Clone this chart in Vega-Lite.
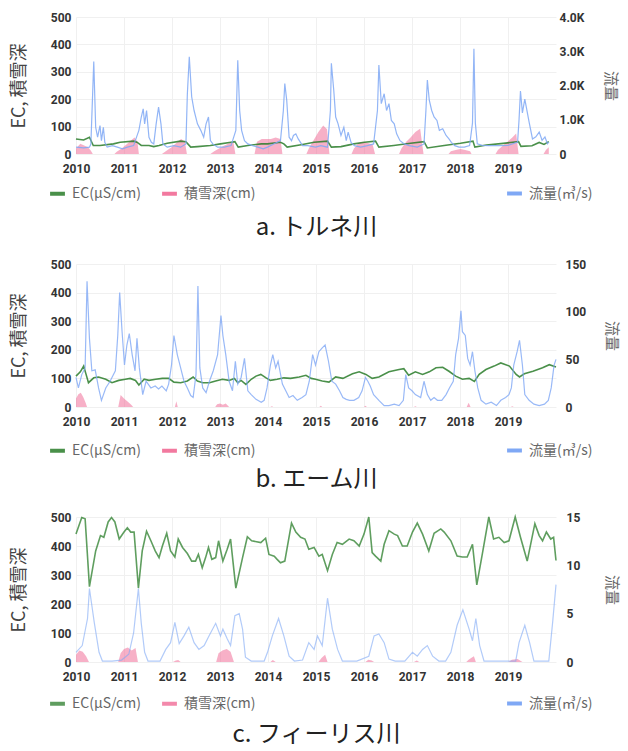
{
  "$schema": "https://vega.github.io/schema/vega-lite/v6.json",
  "background": "white",
  "padding": {"left": 10, "top": 11, "right": 7, "bottom": 5},
  "config": {
    "view": {"stroke": null},
    "font": "Roboto, Noto Sans CJK JP",
    "axis": {"domain": false, "ticks": false, "tickSize": 0, "labelFont": "Roboto", "labelFontWeight": "bold", "labelFontSize": 12, "labelColor": "#333333", "gridColor": "#f0f0f0", "titleFont": "Noto Sans CJK JP", "titleFontWeight": "normal"},
    "legend": {"padding": 0}
  },
  "datasets": {
    "a_fl": [{"t":2010,"v":200},{"t":2010.16,"v":180},{"t":2010.28,"v":200},{"t":2010.31,"v":290},{"t":2010.37,"v":2700},{"t":2010.41,"v":780},{"t":2010.45,"v":490},{"t":2010.5,"v":830},{"t":2010.53,"v":390},{"t":2010.57,"v":780},{"t":2010.6,"v":340},{"t":2010.65,"v":200},{"t":2010.76,"v":245},{"t":2010.86,"v":200},{"t":2010.97,"v":150},{"t":2011.07,"v":200},{"t":2011.2,"v":245},{"t":2011.31,"v":690},{"t":2011.36,"v":1080},{"t":2011.4,"v":1320},{"t":2011.43,"v":880},{"t":2011.47,"v":1270},{"t":2011.52,"v":490},{"t":2011.57,"v":340},{"t":2011.62,"v":294},{"t":2011.67,"v":880},{"t":2011.72,"v":1370},{"t":2011.77,"v":880},{"t":2011.81,"v":294},{"t":2011.9,"v":200},{"t":2012.04,"v":245},{"t":2012.18,"v":200},{"t":2012.29,"v":294},{"t":2012.32,"v":1760},{"t":2012.36,"v":2840},{"t":2012.41,"v":1670},{"t":2012.46,"v":1270},{"t":2012.53,"v":880},{"t":2012.6,"v":690},{"t":2012.66,"v":490},{"t":2012.71,"v":880},{"t":2012.76,"v":1080},{"t":2012.8,"v":390},{"t":2012.85,"v":294},{"t":2012.95,"v":200},{"t":2013.09,"v":200},{"t":2013.23,"v":245},{"t":2013.33,"v":690},{"t":2013.37,"v":2740},{"t":2013.41,"v":1270},{"t":2013.45,"v":690},{"t":2013.51,"v":390},{"t":2013.58,"v":294},{"t":2013.68,"v":245},{"t":2013.79,"v":200},{"t":2013.9,"v":150},{"t":2013.99,"v":200},{"t":2014.12,"v":294},{"t":2014.26,"v":390},{"t":2014.32,"v":1270},{"t":2014.35,"v":2060},{"t":2014.39,"v":1570},{"t":2014.44,"v":490},{"t":2014.49,"v":390},{"t":2014.53,"v":540},{"t":2014.58,"v":590},{"t":2014.63,"v":440},{"t":2014.72,"v":245},{"t":2014.83,"v":245},{"t":2014.99,"v":200},{"t":2015.1,"v":245},{"t":2015.24,"v":200},{"t":2015.3,"v":1270},{"t":2015.32,"v":2650},{"t":2015.37,"v":1860},{"t":2015.41,"v":1080},{"t":2015.46,"v":880},{"t":2015.52,"v":540},{"t":2015.58,"v":780},{"t":2015.63,"v":390},{"t":2015.67,"v":640},{"t":2015.73,"v":340},{"t":2015.8,"v":245},{"t":2015.93,"v":200},{"t":2016.07,"v":245},{"t":2016.2,"v":294},{"t":2016.28,"v":1270},{"t":2016.31,"v":2600},{"t":2016.36,"v":1470},{"t":2016.42,"v":1760},{"t":2016.47,"v":1270},{"t":2016.52,"v":1470},{"t":2016.57,"v":980},{"t":2016.63,"v":880},{"t":2016.68,"v":590},{"t":2016.75,"v":390},{"t":2016.84,"v":294},{"t":2016.94,"v":245},{"t":2017.11,"v":200},{"t":2017.25,"v":294},{"t":2017.29,"v":1270},{"t":2017.32,"v":2160},{"t":2017.36,"v":1570},{"t":2017.41,"v":1270},{"t":2017.46,"v":1080},{"t":2017.52,"v":980},{"t":2017.57,"v":690},{"t":2017.64,"v":735},{"t":2017.71,"v":540},{"t":2017.77,"v":440},{"t":2017.82,"v":340},{"t":2017.89,"v":245},{"t":2017.98,"v":200},{"t":2018.09,"v":200},{"t":2018.2,"v":245},{"t":2018.26,"v":900},{"t":2018.29,"v":3070},{"t":2018.32,"v":900},{"t":2018.36,"v":300},{"t":2018.46,"v":250},{"t":2018.6,"v":245},{"t":2018.8,"v":245},{"t":2019,"v":250},{"t":2019.2,"v":350},{"t":2019.23,"v":1000},{"t":2019.26,"v":1840},{"t":2019.3,"v":1200},{"t":2019.35,"v":1600},{"t":2019.44,"v":930},{"t":2019.51,"v":440},{"t":2019.58,"v":500},{"t":2019.65,"v":640},{"t":2019.71,"v":400},{"t":2019.77,"v":500},{"t":2019.82,"v":300},{"t":2019.85,"v":350}],
    "a_ec": [{"t":2010,"v":55},{"t":2010.16,"v":51},{"t":2010.28,"v":61},{"t":2010.36,"v":31},{"t":2010.5,"v":31},{"t":2010.78,"v":37},{"t":2010.92,"v":43},{"t":2011.2,"v":47},{"t":2011.27,"v":43},{"t":2011.36,"v":31},{"t":2011.52,"v":31},{"t":2011.62,"v":27},{"t":2011.73,"v":31},{"t":2011.9,"v":39},{"t":2012.18,"v":47},{"t":2012.29,"v":45},{"t":2012.39,"v":25},{"t":2012.53,"v":27},{"t":2012.8,"v":31},{"t":2013.01,"v":37},{"t":2013.23,"v":43},{"t":2013.31,"v":45},{"t":2013.38,"v":25},{"t":2013.58,"v":31},{"t":2013.86,"v":37},{"t":2013.99,"v":37},{"t":2014.26,"v":43},{"t":2014.33,"v":37},{"t":2014.4,"v":25},{"t":2014.69,"v":34},{"t":2014.96,"v":43},{"t":2015.24,"v":47},{"t":2015.32,"v":25},{"t":2015.52,"v":27},{"t":2015.79,"v":37},{"t":2016.01,"v":43},{"t":2016.24,"v":47},{"t":2016.31,"v":25},{"t":2016.62,"v":31},{"t":2016.97,"v":39},{"t":2017.25,"v":45},{"t":2017.32,"v":22},{"t":2017.67,"v":31},{"t":2018.01,"v":39},{"t":2018.27,"v":47},{"t":2018.31,"v":25},{"t":2018.55,"v":33},{"t":2018.85,"v":38},{"t":2019.22,"v":45},{"t":2019.27,"v":28},{"t":2019.5,"v":30},{"t":2019.65,"v":42},{"t":2019.75,"v":35},{"t":2019.85,"v":45}],
    "a_sn": [{"t":2010,"v":20},{"t":2010.09,"v":37},{"t":2010.17,"v":31},{"t":2010.25,"v":25},{"t":2010.31,"v":12},{"t":2010.35,"v":0},{"t":2010.8,"v":0},{"t":2010.85,"v":8},{"t":2010.95,"v":20},{"t":2011.05,"v":35},{"t":2011.15,"v":50},{"t":2011.22,"v":60},{"t":2011.28,"v":45},{"t":2011.31,"v":0},{"t":2011.79,"v":0},{"t":2011.87,"v":10},{"t":2011.99,"v":25},{"t":2012.09,"v":40},{"t":2012.19,"v":55},{"t":2012.27,"v":45},{"t":2012.31,"v":0},{"t":2012.8,"v":0},{"t":2012.88,"v":10},{"t":2012.98,"v":20},{"t":2013.08,"v":30},{"t":2013.18,"v":38},{"t":2013.28,"v":43},{"t":2013.32,"v":0},{"t":2013.72,"v":0},{"t":2013.77,"v":45},{"t":2013.87,"v":55},{"t":2013.96,"v":55},{"t":2014.06,"v":55},{"t":2014.16,"v":60},{"t":2014.26,"v":55},{"t":2014.3,"v":0},{"t":2014.8,"v":0},{"t":2014.85,"v":20},{"t":2014.95,"v":50},{"t":2015.05,"v":80},{"t":2015.15,"v":104},{"t":2015.23,"v":90},{"t":2015.28,"v":0},{"t":2015.74,"v":0},{"t":2015.79,"v":20},{"t":2015.89,"v":40},{"t":2015.98,"v":45},{"t":2016.08,"v":40},{"t":2016.18,"v":35},{"t":2016.23,"v":0},{"t":2016.73,"v":0},{"t":2016.78,"v":20},{"t":2016.88,"v":45},{"t":2016.97,"v":60},{"t":2017.07,"v":80},{"t":2017.17,"v":92},{"t":2017.24,"v":0},{"t":2017.76,"v":0},{"t":2017.81,"v":10},{"t":2017.91,"v":15},{"t":2018.01,"v":18},{"t":2018.11,"v":15},{"t":2018.21,"v":10},{"t":2018.24,"v":0},{"t":2018.74,"v":0},{"t":2018.79,"v":15},{"t":2018.89,"v":30},{"t":2018.99,"v":45},{"t":2019.09,"v":60},{"t":2019.17,"v":75},{"t":2019.22,"v":0},{"t":2019.74,"v":0},{"t":2019.79,"v":15},{"t":2019.85,"v":25}],
    "b_fl": [{"t":2010,"v":31},{"t":2010.05,"v":20},{"t":2010.12,"v":34},{"t":2010.19,"v":41},{"t":2010.23,"v":132},{"t":2010.28,"v":72},{"t":2010.33,"v":38},{"t":2010.4,"v":39},{"t":2010.47,"v":20},{"t":2010.53,"v":7},{"t":2010.62,"v":20},{"t":2010.71,"v":27},{"t":2010.82,"v":38},{"t":2010.87,"v":75},{"t":2010.91,"v":120},{"t":2010.96,"v":79},{"t":2011.01,"v":44},{"t":2011.06,"v":65},{"t":2011.11,"v":77},{"t":2011.17,"v":55},{"t":2011.23,"v":38},{"t":2011.27,"v":72},{"t":2011.32,"v":41},{"t":2011.39,"v":13},{"t":2011.46,"v":27},{"t":2011.56,"v":20},{"t":2011.65,"v":22},{"t":2011.72,"v":19},{"t":2011.79,"v":22},{"t":2011.88,"v":17},{"t":2011.93,"v":24},{"t":2011.99,"v":44},{"t":2012.04,"v":75},{"t":2012.11,"v":55},{"t":2012.18,"v":41},{"t":2012.25,"v":27},{"t":2012.32,"v":20},{"t":2012.39,"v":12},{"t":2012.44,"v":10},{"t":2012.5,"v":34},{"t":2012.54,"v":127},{"t":2012.58,"v":41},{"t":2012.64,"v":20},{"t":2012.71,"v":15},{"t":2012.78,"v":27},{"t":2012.86,"v":38},{"t":2012.95,"v":55},{"t":2013.02,"v":96},{"t":2013.06,"v":75},{"t":2013.12,"v":55},{"t":2013.19,"v":27},{"t":2013.26,"v":17},{"t":2013.32,"v":48},{"t":2013.37,"v":24},{"t":2013.44,"v":31},{"t":2013.51,"v":51},{"t":2013.58,"v":17},{"t":2013.65,"v":13},{"t":2013.75,"v":8},{"t":2013.86,"v":5},{"t":2013.92,"v":7},{"t":2013.98,"v":20},{"t":2014.05,"v":44},{"t":2014.1,"v":55},{"t":2014.16,"v":41},{"t":2014.21,"v":48},{"t":2014.3,"v":24},{"t":2014.37,"v":17},{"t":2014.44,"v":10},{"t":2014.52,"v":12},{"t":2014.61,"v":7},{"t":2014.71,"v":10},{"t":2014.79,"v":13},{"t":2014.86,"v":27},{"t":2014.93,"v":55},{"t":2014.99,"v":44},{"t":2015.06,"v":58},{"t":2015.13,"v":62},{"t":2015.19,"v":65},{"t":2015.26,"v":48},{"t":2015.33,"v":27},{"t":2015.41,"v":24},{"t":2015.49,"v":17},{"t":2015.56,"v":10},{"t":2015.63,"v":8},{"t":2015.7,"v":7},{"t":2015.79,"v":7},{"t":2015.89,"v":10},{"t":2015.96,"v":17},{"t":2016.03,"v":31},{"t":2016.08,"v":27},{"t":2016.13,"v":22},{"t":2016.2,"v":13},{"t":2016.31,"v":7},{"t":2016.42,"v":1.5},{"t":2016.52,"v":1.5},{"t":2016.63,"v":3},{"t":2016.73,"v":1.5},{"t":2016.82,"v":7},{"t":2016.87,"v":34},{"t":2016.93,"v":20},{"t":2017,"v":17},{"t":2017.07,"v":13},{"t":2017.18,"v":10},{"t":2017.25,"v":27},{"t":2017.32,"v":13},{"t":2017.39,"v":7},{"t":2017.46,"v":10},{"t":2017.53,"v":7},{"t":2017.62,"v":7},{"t":2017.71,"v":13},{"t":2017.78,"v":20},{"t":2017.86,"v":27},{"t":2017.91,"v":55},{"t":2017.97,"v":72},{"t":2018.02,"v":101},{"t":2018.05,"v":79},{"t":2018.11,"v":75},{"t":2018.16,"v":51},{"t":2018.21,"v":44},{"t":2018.26,"v":58},{"t":2018.31,"v":38},{"t":2018.37,"v":20},{"t":2018.44,"v":7},{"t":2018.54,"v":3},{"t":2018.65,"v":5},{"t":2018.76,"v":1.5},{"t":2018.85,"v":7},{"t":2018.95,"v":10},{"t":2019.02,"v":13},{"t":2019.07,"v":20},{"t":2019.12,"v":44},{"t":2019.19,"v":58},{"t":2019.24,"v":70},{"t":2019.3,"v":44},{"t":2019.35,"v":13},{"t":2019.44,"v":7},{"t":2019.54,"v":3},{"t":2019.65,"v":1.5},{"t":2019.76,"v":3},{"t":2019.84,"v":7},{"t":2019.9,"v":20},{"t":2019.96,"v":44},{"t":2020,"v":50}],
    "b_ec": [{"t":2010,"v":108},{"t":2010.09,"v":123},{"t":2010.16,"v":143},{"t":2010.21,"v":114},{"t":2010.26,"v":85},{"t":2010.37,"v":102},{"t":2010.47,"v":105},{"t":2010.62,"v":97},{"t":2010.75,"v":85},{"t":2010.89,"v":93},{"t":2011.03,"v":97},{"t":2011.13,"v":100},{"t":2011.24,"v":93},{"t":2011.31,"v":77},{"t":2011.42,"v":97},{"t":2011.52,"v":93},{"t":2011.66,"v":97},{"t":2011.8,"v":100},{"t":2011.93,"v":100},{"t":2012.04,"v":87},{"t":2012.18,"v":85},{"t":2012.32,"v":91},{"t":2012.44,"v":105},{"t":2012.53,"v":91},{"t":2012.64,"v":85},{"t":2012.78,"v":85},{"t":2012.91,"v":91},{"t":2013.05,"v":97},{"t":2013.19,"v":93},{"t":2013.3,"v":100},{"t":2013.37,"v":85},{"t":2013.44,"v":93},{"t":2013.54,"v":79},{"t":2013.65,"v":97},{"t":2013.75,"v":108},{"t":2013.85,"v":114},{"t":2013.96,"v":102},{"t":2014.05,"v":93},{"t":2014.19,"v":97},{"t":2014.33,"v":102},{"t":2014.47,"v":100},{"t":2014.65,"v":105},{"t":2014.79,"v":111},{"t":2014.9,"v":100},{"t":2014.99,"v":97},{"t":2015.13,"v":91},{"t":2015.27,"v":87},{"t":2015.41,"v":105},{"t":2015.56,"v":100},{"t":2015.76,"v":116},{"t":2015.9,"v":123},{"t":2016.04,"v":114},{"t":2016.17,"v":100},{"t":2016.31,"v":105},{"t":2016.52,"v":123},{"t":2016.73,"v":131},{"t":2016.83,"v":134},{"t":2016.93,"v":111},{"t":2017.07,"v":123},{"t":2017.22,"v":114},{"t":2017.36,"v":123},{"t":2017.5,"v":137},{"t":2017.64,"v":139},{"t":2017.77,"v":125},{"t":2017.91,"v":108},{"t":2018.05,"v":97},{"t":2018.19,"v":100},{"t":2018.3,"v":89},{"t":2018.4,"v":114},{"t":2018.54,"v":131},{"t":2018.71,"v":143},{"t":2018.85,"v":154},{"t":2019.03,"v":143},{"t":2019.17,"v":114},{"t":2019.24,"v":105},{"t":2019.34,"v":116},{"t":2019.52,"v":125},{"t":2019.72,"v":137},{"t":2019.86,"v":148},{"t":2020,"v":140}],
    "b_sn": [{"t":2010,"v":30},{"t":2010.05,"v":45},{"t":2010.1,"v":50},{"t":2010.15,"v":35},{"t":2010.2,"v":15},{"t":2010.23,"v":0},{"t":2010.88,"v":0},{"t":2010.93,"v":42},{"t":2011,"v":30},{"t":2011.08,"v":18},{"t":2011.15,"v":8},{"t":2011.19,"v":0},{"t":2012.06,"v":0},{"t":2012.09,"v":20},{"t":2012.12,"v":0},{"t":2012.9,"v":0},{"t":2012.94,"v":10},{"t":2013,"v":12},{"t":2013.06,"v":8},{"t":2013.12,"v":12},{"t":2013.19,"v":0},{"t":2014.05,"v":0},{"t":2014.08,"v":3},{"t":2014.11,"v":0},{"t":2015.07,"v":0},{"t":2015.1,"v":4},{"t":2015.13,"v":0},{"t":2016,"v":0},{"t":2016.03,"v":4},{"t":2016.06,"v":0},{"t":2017.04,"v":0},{"t":2017.07,"v":3},{"t":2017.1,"v":0},{"t":2018.14,"v":0},{"t":2018.18,"v":15},{"t":2018.22,"v":0},{"t":2019.06,"v":0},{"t":2019.09,"v":3},{"t":2019.12,"v":0}],
    "c_fl": [{"t":2010,"v":1},{"t":2010.13,"v":1.7},{"t":2010.24,"v":4.5},{"t":2010.28,"v":7.6},{"t":2010.38,"v":4.1},{"t":2010.48,"v":1},{"t":2010.55,"v":0.1},{"t":2010.75,"v":0.1},{"t":2010.95,"v":0.2},{"t":2011.1,"v":0.8},{"t":2011.2,"v":3},{"t":2011.3,"v":7.6},{"t":2011.36,"v":4},{"t":2011.43,"v":1},{"t":2011.5,"v":0.1},{"t":2011.75,"v":0.1},{"t":2011.87,"v":1.3},{"t":2011.97,"v":2},{"t":2012.06,"v":4.1},{"t":2012.15,"v":1.9},{"t":2012.25,"v":2.7},{"t":2012.35,"v":3.6},{"t":2012.46,"v":2},{"t":2012.56,"v":1.3},{"t":2012.67,"v":1.7},{"t":2012.77,"v":2.7},{"t":2012.91,"v":4},{"t":2013.01,"v":2.7},{"t":2013.06,"v":3.4},{"t":2013.15,"v":2.4},{"t":2013.22,"v":1.7},{"t":2013.31,"v":4.8},{"t":2013.4,"v":5},{"t":2013.47,"v":3.4},{"t":2013.53,"v":0.5},{"t":2013.65,"v":0.1},{"t":2013.92,"v":0.1},{"t":2013.99,"v":1},{"t":2014.09,"v":2.7},{"t":2014.22,"v":4.5},{"t":2014.33,"v":2.7},{"t":2014.44,"v":0.6},{"t":2014.55,"v":0.1},{"t":2014.72,"v":0.2},{"t":2014.85,"v":2},{"t":2014.96,"v":1.3},{"t":2015.03,"v":2.7},{"t":2015.13,"v":1.7},{"t":2015.24,"v":6.6},{"t":2015.34,"v":3.4},{"t":2015.45,"v":1.3},{"t":2015.55,"v":0.1},{"t":2015.85,"v":0.1},{"t":2016.1,"v":0.6},{"t":2016.21,"v":2.7},{"t":2016.31,"v":2.9},{"t":2016.42,"v":2},{"t":2016.52,"v":0.3},{"t":2016.65,"v":0.1},{"t":2016.85,"v":0.1},{"t":2017.01,"v":1},{"t":2017.11,"v":0.6},{"t":2017.22,"v":1.3},{"t":2017.32,"v":1.7},{"t":2017.43,"v":0.6},{"t":2017.56,"v":0.1},{"t":2017.7,"v":0.1},{"t":2017.81,"v":1},{"t":2017.94,"v":3.8},{"t":2018.06,"v":5.4},{"t":2018.19,"v":3.4},{"t":2018.26,"v":2.2},{"t":2018.33,"v":4.5},{"t":2018.41,"v":1.7},{"t":2018.5,"v":0.1},{"t":2018.9,"v":0.1},{"t":2019.16,"v":0.1},{"t":2019.23,"v":2},{"t":2019.35,"v":3.8},{"t":2019.45,"v":2},{"t":2019.54,"v":0.1},{"t":2019.85,"v":0.1},{"t":2019.93,"v":4.1},{"t":2020,"v":8}],
    "c_ec": [{"t":2010,"v":441},{"t":2010.12,"v":498},{"t":2010.19,"v":494},{"t":2010.28,"v":260},{"t":2010.41,"v":383},{"t":2010.51,"v":436},{"t":2010.58,"v":430},{"t":2010.67,"v":483},{"t":2010.74,"v":498},{"t":2010.81,"v":483},{"t":2010.9,"v":424},{"t":2011,"v":448},{"t":2011.07,"v":463},{"t":2011.14,"v":448},{"t":2011.21,"v":448},{"t":2011.3,"v":255},{"t":2011.38,"v":383},{"t":2011.47,"v":451},{"t":2011.56,"v":418},{"t":2011.65,"v":383},{"t":2011.73,"v":360},{"t":2011.8,"v":400},{"t":2011.89,"v":444},{"t":2011.97,"v":383},{"t":2012.06,"v":362},{"t":2012.13,"v":424},{"t":2012.22,"v":395},{"t":2012.32,"v":374},{"t":2012.41,"v":348},{"t":2012.49,"v":348},{"t":2012.55,"v":371},{"t":2012.63,"v":325},{"t":2012.7,"v":360},{"t":2012.76,"v":395},{"t":2012.83,"v":354},{"t":2012.91,"v":360},{"t":2012.97,"v":418},{"t":2013.06,"v":348},{"t":2013.15,"v":389},{"t":2013.22,"v":424},{"t":2013.33,"v":255},{"t":2013.47,"v":360},{"t":2013.57,"v":432},{"t":2013.66,"v":418},{"t":2013.85,"v":412},{"t":2013.95,"v":427},{"t":2014.02,"v":371},{"t":2014.13,"v":365},{"t":2014.19,"v":354},{"t":2014.26,"v":342},{"t":2014.35,"v":348},{"t":2014.49,"v":479},{"t":2014.58,"v":448},{"t":2014.68,"v":430},{"t":2014.77,"v":424},{"t":2014.85,"v":389},{"t":2014.96,"v":395},{"t":2015.06,"v":365},{"t":2015.13,"v":371},{"t":2015.24,"v":315},{"t":2015.34,"v":371},{"t":2015.44,"v":412},{"t":2015.55,"v":406},{"t":2015.69,"v":424},{"t":2015.79,"v":418},{"t":2015.9,"v":400},{"t":2016,"v":441},{"t":2016.1,"v":500},{"t":2016.17,"v":377},{"t":2016.24,"v":365},{"t":2016.35,"v":348},{"t":2016.42,"v":406},{"t":2016.52,"v":453},{"t":2016.63,"v":441},{"t":2016.7,"v":436},{"t":2016.8,"v":400},{"t":2016.9,"v":400},{"t":2017.01,"v":448},{"t":2017.11,"v":479},{"t":2017.22,"v":441},{"t":2017.35,"v":383},{"t":2017.46,"v":444},{"t":2017.6,"v":459},{"t":2017.67,"v":448},{"t":2017.81,"v":418},{"t":2017.94,"v":365},{"t":2018.05,"v":362},{"t":2018.15,"v":362},{"t":2018.26,"v":406},{"t":2018.35,"v":266},{"t":2018.47,"v":377},{"t":2018.6,"v":500},{"t":2018.7,"v":424},{"t":2018.81,"v":430},{"t":2018.92,"v":412},{"t":2019.02,"v":418},{"t":2019.15,"v":500},{"t":2019.26,"v":430},{"t":2019.4,"v":348},{"t":2019.56,"v":477},{"t":2019.65,"v":436},{"t":2019.72,"v":418},{"t":2019.8,"v":448},{"t":2019.89,"v":424},{"t":2019.95,"v":430},{"t":2020,"v":350}],
    "c_sn": [{"t":2010,"v":25},{"t":2010.07,"v":40},{"t":2010.14,"v":35},{"t":2010.21,"v":20},{"t":2010.27,"v":0},{"t":2010.88,"v":0},{"t":2010.93,"v":30},{"t":2011,"v":45},{"t":2011.08,"v":50},{"t":2011.16,"v":40},{"t":2011.24,"v":48},{"t":2011.29,"v":0},{"t":2012.02,"v":0},{"t":2012.08,"v":5},{"t":2012.13,"v":7},{"t":2012.18,"v":0},{"t":2012.92,"v":0},{"t":2012.97,"v":30},{"t":2013.05,"v":40},{"t":2013.14,"v":45},{"t":2013.22,"v":35},{"t":2013.29,"v":0},{"t":2014.05,"v":0},{"t":2014.1,"v":7},{"t":2014.16,"v":0},{"t":2015.05,"v":0},{"t":2015.12,"v":15},{"t":2015.19,"v":25},{"t":2015.24,"v":0},{"t":2016.03,"v":0},{"t":2016.09,"v":8},{"t":2016.16,"v":5},{"t":2016.21,"v":0},{"t":2017.04,"v":0},{"t":2017.1,"v":5},{"t":2017.15,"v":0},{"t":2018.13,"v":0},{"t":2018.18,"v":8},{"t":2018.24,"v":15},{"t":2018.29,"v":20},{"t":2018.33,"v":0},{"t":2019.01,"v":0},{"t":2019.08,"v":8},{"t":2019.2,"v":10},{"t":2019.3,"v":0}]
  },
  "spacing": 110,
  "bounds": "flush",
  "resolve": {"scale": {"x": "independent", "y": "independent", "color": "independent", "stroke": "independent"}, "legend": {"color": "independent", "stroke": "independent"}},
  "vconcat": [
    {
      "width": 480, "height": 137,
      "encoding": {
        "x": {"field": "t", "type": "quantitative", "scale": {"domain": [2010, 2020], "nice": false, "zero": false},
          "axis": {"values": [2010, 2011, 2012, 2013, 2014, 2015, 2016, 2017, 2018, 2019], "format": "d", "labelFlush": false, "labelPadding": 9, "grid": true, "title": "a. トルネ川", "titleFontSize": 24, "titleColor": "#222222", "titlePadding": 41}}
      },
      "layer": [
        {"encoding": {
           "y": {"field": "v", "type": "quantitative", "scale": {"domain": [0, 500], "nice": false},
             "axis": {"values": [0, 100, 200, 300, 400, 500], "title": "EC, 積雪深", "titleFontSize": 18, "titleColor": "#444444", "titlePadding": 22, "labelPadding": 5, "grid": true}}
         },
         "layer": [
          {"data": {"name": "a_sn"}, "mark": {"type": "area", "opacity": 0.5},
           "encoding": {
             "color": {"datum": "積雪深(cm)", "type": "nominal", "scale": {"domain": ["EC(μS/cm)", "積雪深(cm)"], "range": ["#2a7d2a", "#f0628f"]},
               "legend": {"orient": "none", "legendX": -28, "legendY": 167, "direction": "horizontal", "title": null, "symbolType": "stroke", "symbolStrokeWidth": 4, "symbolSize": 220, "labelFontSize": 14, "labelColor": "#666666", "labelFont": "Noto Sans CJK JP", "columnPadding": 13, "labelOffset": 5, "symbolOpacity": 1}}
           }},
          {"data": {"name": "a_ec"}, "mark": {"type": "line", "strokeWidth": 1.6, "opacity": 0.85},
           "encoding": {
             "color": {"datum": "EC(μS/cm)", "type": "nominal", "scale": {"domain": ["EC(μS/cm)", "積雪深(cm)"], "range": ["#2a7d2a", "#f0628f"]}}
           }}
        ]},
        {"data": {"name": "a_fl"}, "mark": {"type": "line", "strokeWidth": 1.2, "opacity": 0.85},
         "encoding": {
           "y": {"field": "v", "type": "quantitative", "scale": {"domain": [0, 4000], "nice": false},
             "axis": {"orient": "right", "values": [0, 1000, 2000, 3000, 4000], "labelExpr": "datum.value == 0 ? '0' : format(datum.value / 1000, '.1f') + 'K'", "title": "流量", "titleFontSize": 15, "titleColor": "#666666", "titlePadding": 19, "labelPadding": 3, "grid": false}},
           "stroke": {"datum": "流量(㎥/s)", "type": "nominal", "scale": {"domain": ["流量(㎥/s)"], "range": ["#7fa8f5"]},
             "legend": {"orient": "none", "legendX": 429, "legendY": 167, "direction": "horizontal", "title": null, "symbolType": "stroke", "symbolStrokeWidth": 4, "symbolSize": 220, "labelFontSize": 14, "labelColor": "#666666", "labelFont": "Noto Sans CJK JP", "labelOffset": 5, "symbolOpacity": 1}}
         }}
      ],
      "resolve": {"scale": {"y": "independent"}}
    },
    {
      "width": 480, "height": 143,
      "encoding": {
        "x": {"field": "t", "type": "quantitative", "scale": {"domain": [2010, 2020], "nice": false, "zero": false},
          "axis": {"values": [2010, 2011, 2012, 2013, 2014, 2015, 2016, 2017, 2018, 2019], "format": "d", "labelFlush": false, "labelPadding": 9, "grid": true, "title": "b. エーム川", "titleFontSize": 24, "titleColor": "#222222", "titlePadding": 40}}
      },
      "layer": [
        {"encoding": {
           "y": {"field": "v", "type": "quantitative", "scale": {"domain": [0, 500], "nice": false},
             "axis": {"values": [0, 100, 200, 300, 400, 500], "title": "EC, 積雪深", "titleFontSize": 18, "titleColor": "#444444", "titlePadding": 22, "labelPadding": 5, "grid": true}}
         },
         "layer": [
          {"data": {"name": "b_sn"}, "mark": {"type": "area", "opacity": 0.5},
           "encoding": {
             "color": {"datum": "積雪深(cm)", "type": "nominal", "scale": {"domain": ["EC(μS/cm)", "積雪深(cm)"], "range": ["#2a7d2a", "#f0628f"]},
               "legend": {"orient": "none", "legendX": -28, "legendY": 177, "direction": "horizontal", "title": null, "symbolType": "stroke", "symbolStrokeWidth": 4, "symbolSize": 220, "labelFontSize": 14, "labelColor": "#666666", "labelFont": "Noto Sans CJK JP", "columnPadding": 13, "labelOffset": 5, "symbolOpacity": 1}}
           }},
          {"data": {"name": "b_ec"}, "mark": {"type": "line", "strokeWidth": 1.6, "opacity": 0.85},
           "encoding": {
             "color": {"datum": "EC(μS/cm)", "type": "nominal", "scale": {"domain": ["EC(μS/cm)", "積雪深(cm)"], "range": ["#2a7d2a", "#f0628f"]}}
           }}
        ]},
        {"data": {"name": "b_fl"}, "mark": {"type": "line", "strokeWidth": 1.2, "opacity": 0.8},
         "encoding": {
           "y": {"field": "v", "type": "quantitative", "scale": {"domain": [0, 150], "nice": false},
             "axis": {"orient": "right", "values": [0, 50, 100, 150], "title": "流量", "titleFontSize": 15, "titleColor": "#666666", "titlePadding": 18, "labelPadding": 9, "grid": false}},
           "stroke": {"datum": "流量(㎥/s)", "type": "nominal", "scale": {"domain": ["流量(㎥/s)"], "range": ["#7fa8f5"]},
             "legend": {"orient": "none", "legendX": 429, "legendY": 177, "direction": "horizontal", "title": null, "symbolType": "stroke", "symbolStrokeWidth": 4, "symbolSize": 220, "labelFontSize": 14, "labelColor": "#666666", "labelFont": "Noto Sans CJK JP", "labelOffset": 5, "symbolOpacity": 1}}
         }}
      ],
      "resolve": {"scale": {"y": "independent"}}
    },
    {
      "width": 480, "height": 145,
      "encoding": {
        "x": {"field": "t", "type": "quantitative", "scale": {"domain": [2010, 2020], "nice": false, "zero": false},
          "axis": {"values": [2010, 2011, 2012, 2013, 2014, 2015, 2016, 2017, 2018, 2019], "format": "d", "labelFlush": false, "labelPadding": 9, "grid": true, "title": "c. フィーリス川", "titleFontSize": 24, "titleColor": "#222222", "titlePadding": 40}}
      },
      "layer": [
        {"encoding": {
           "y": {"field": "v", "type": "quantitative", "scale": {"domain": [0, 500], "nice": false},
             "axis": {"values": [0, 100, 200, 300, 400, 500], "title": "EC, 積雪深", "titleFontSize": 18, "titleColor": "#444444", "titlePadding": 22, "labelPadding": 5, "grid": true}}
         },
         "layer": [
          {"data": {"name": "c_sn"}, "mark": {"type": "area", "opacity": 0.5},
           "encoding": {
             "color": {"datum": "積雪深(cm)", "type": "nominal", "scale": {"domain": ["EC(μS/cm)", "積雪深(cm)"], "range": ["#2a7d2a", "#f0628f"]},
               "legend": {"orient": "none", "legendX": -28, "legendY": 177, "direction": "horizontal", "title": null, "symbolType": "stroke", "symbolStrokeWidth": 4, "symbolSize": 220, "labelFontSize": 14, "labelColor": "#666666", "labelFont": "Noto Sans CJK JP", "columnPadding": 13, "labelOffset": 5, "symbolOpacity": 1}}
           }},
          {"data": {"name": "c_ec"}, "mark": {"type": "line", "strokeWidth": 1.6, "opacity": 0.75},
           "encoding": {
             "color": {"datum": "EC(μS/cm)", "type": "nominal", "scale": {"domain": ["EC(μS/cm)", "積雪深(cm)"], "range": ["#2a7d2a", "#f0628f"]}}
           }}
        ]},
        {"data": {"name": "c_fl"}, "mark": {"type": "line", "strokeWidth": 1.2, "opacity": 0.6},
         "encoding": {
           "y": {"field": "v", "type": "quantitative", "scale": {"domain": [0, 15], "nice": false},
             "axis": {"orient": "right", "values": [0, 5, 10, 15], "title": "流量", "titleFontSize": 15, "titleColor": "#666666", "titlePadding": 24, "labelPadding": 10, "grid": false}},
           "stroke": {"datum": "流量(㎥/s)", "type": "nominal", "scale": {"domain": ["流量(㎥/s)"], "range": ["#7fa8f5"]},
             "legend": {"orient": "none", "legendX": 429, "legendY": 177, "direction": "horizontal", "title": null, "symbolType": "stroke", "symbolStrokeWidth": 4, "symbolSize": 220, "labelFontSize": 14, "labelColor": "#666666", "labelFont": "Noto Sans CJK JP", "labelOffset": 5, "symbolOpacity": 1}}
         }}
      ],
      "resolve": {"scale": {"y": "independent"}}
    }
  ]
}
